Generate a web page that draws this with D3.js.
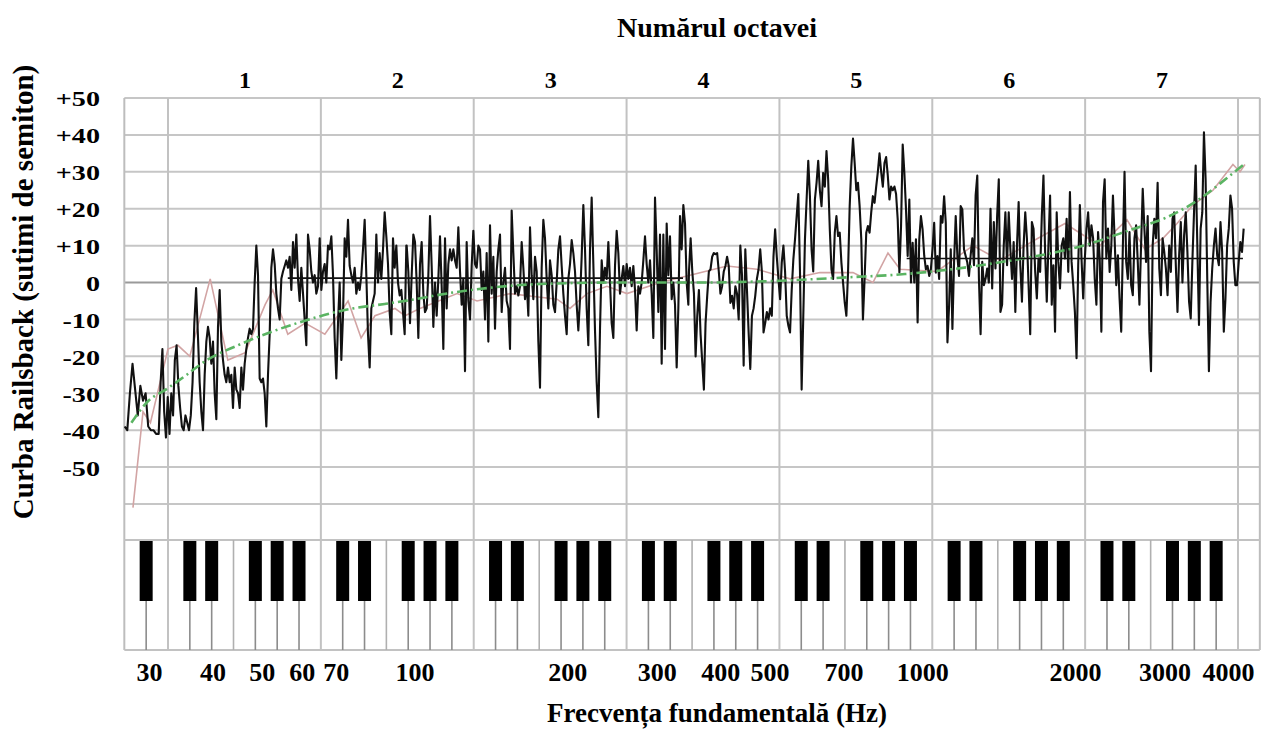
<!DOCTYPE html>
<html lang="ro">

<head>
    <meta charset="utf-8">
    <style type="text/css">
        body { margin: 0; background: #fff; }
        svg { display: block; }
        text {
            font-family: "Liberation Serif", "Times New Roman", serif;
            font-weight: bold;
            fill: #000;
        }
    </style>
</head>

<body>
    <svg width="1274" height="731"></svg>
    <script src="https://d3js.org/d3.v7.min.js" type="text/javascript"></script>

    <script type="text/javascript">
        // ---- data ----
        var freqTicks = [30, 40, 50, 60, 70, 100, 200, 300, 400, 500, 700, 1000, 2000, 3000, 4000];
        var centTicks = [50, 40, 30, 20, 10, 0, -10, -20, -30, -40, -50];
        var centGrid = [50, 40, 30, 20, 10, 0, -10, -20, -30, -40, -50, -60];
        var octaveNumbers = [1, 2, 3, 4, 5, 6, 7];

        // measured tuning (cents), read in runs evenly spaced in log-frequency between the two ends
        var run1Hz = [26.87, 31.35];
        var run1 = [-39, -40, -30, -22, -29, -36, -28, -32, -30, -39, -40, -40, -41, -41];
        var run2Hz = [31.63, 37.75];
        var run2 = [-27, -18, -35, -42, -31, -41, -30, -36, -21, -17, -28, -34, -39, -40, -36, -38, -40, -36, -27, -11, -1.5, -14, -27];
        var run3Hz = [38.04, 96.37];
        var run3 = [-35, -40, -25, -16, -12, -15, -22, -16, -30, -37, -12, -2, -16, -21, -25, -27, -23, -27, -25, -34,
            -23, -29, -30, -34, -23, -29, -22, -18, -15, -12.5, -14, -12.5, 0, 10, 2, -26, -27, -26, -30, -39,
            -25, -14, 4, 9, 5, -3, -7, -10, 1, 3, 4.5, 6, 4, 7, -2, 11, 4, 13, 1, -5,
            4, -3, -10, -17, 13, 9, 3, 0, 2, -3, -1, 12, -2, 3, 5, 0, 10, 9, 12.5, 2,
            -15, -26, -11, 0, -21, -9, 12, 7, 17, 4.5, 2, 0, 4, -3, 0, -2, 2, 9, 17, 2,
            -14, -23, -7, -5, -3, 13, 0, 8, 1, 9, 19, 12.5, 5, -8, -14, 12, 4, 10, 0, -3.5,
            -2, -8, -14, 10];
        var run4Hz = [96.52, 346.2];
        var run4 = [10, 3, -11, 2, 13, 11, 0, -15, 5, 11, -3, -8, -7, 2, 18, 4.5, -12, 0, -9, 1,
            12.5, -1, -18, 12, -7, 5, 9, 6, 9, 6, 4, 15, 3, -6, 1, -24, 11, -5, -10, 4.5,
            14, 5, 4, 10, 9, -2, 3, -10, 8, -16, 15.5, -3, 7, -12.5, 3, 9, 13, -8, 0, 4,
            -5, -7, -18, 19.5, 8, -3, -1, -3.5, -1, 11, 4, -4.5, 0, -9, 15, 2, -4.5, 7, 3, -16,
            -28.5, 4, 17, 12, 1, -7, 6, 2, -6, -8, 0, 9, 12.5, 4.5, -3, -9, -14, 1, 5, 11.5,
            8, 3, -6, -13, -4.5, 7, 21, 9, -7, -17, 9, 23, 5, -13, -27, -36.5, -12.5, 6, 0, 4,
            1, 11, 0, -11, -15, 4.5, 14, 8, -3, 1, 4.5, -1, 5, 1, 4, -1, 4.5, -2, -13, -1,
            -3, 0, 6, 12.5, 5, 0, 6, -3, -15, 23, 9, -8, 13, -22, 13, -18, 16, 2, 12.5, -4.5,
            0, -6, -23, -7, 18, 9, 21, 16, 0, -6];
        var run5Hz = [347.2, 1235.9];
        var run5 = [3, 12, 3, -3, -20, -9, -2, -14, -21.5, -29, -11, -3.6, 3, 3.6, 7, 8, 7.7, 8, 3, -3,
            -1, 3, 4.5, 7, 4.5, -5.5, -3.6, -7, -1, -3, -10, 10, 2, -22.5, 9, -2, -13.5, -23.4, -9, -7,
            -3.6, 1, 3.6, 9, 3, -13.5, -11, -8, -10, -7, -9, 7, 14.4, 7, 1, -4.5, 5.4, 10, 3, -9,
            -11.7, -13.5, -2, 6.3, 11.7, 18, 24, 3, -29, -9, 11.7, 22.5, 33, 23.4, 9, 3, 22.5, 27, 33, 25,
            20.7, 29.7, 26, 35.6, 28, 14.4, 3.6, 1, 13.5, 18, 12.6, 13.5, 5.4, 0, -5.4, -9, 2.7, 20.7, 31.5, 39,
            32.4, 25, 27, 20.7, 11.7, -10, 1, 13.5, 15.3, 13.5, 19, 23.4, 21.6, 26, 30, 35, 30, 26, 32.4, 34,
            29, 22.5, 26, 25, 26, 24, 17, 2.7, 15.3, 37.4, 29.7, 19.8, 7.2, 22.5, 0, 10.8, 0, 11.7, -10.8, 11.7,
            18, 14.4, 7.2, 3.6, 4.5, 1.8, 3.6, 9, 16.2, 2.7, 7.2, 1, 18, 16.2, 23.4, 16.2, -16.2, -6.3, 9, -12.6,
            5.4, 18, 7.2, 1.8, 20.7, 19.8, 9, 7.2, 5.4, 1.8];
        var run6Hz = [1245.4, 4294.8];
        var run6 = [7.4, 12, 4.7, 23.6, 29, 1, -14, 5.6, -0.7, 1, 3.8, 0, 20, -1.6, 16.4, 3.8, 18, 28, -8, -6,
            10, 19, 4.7, 19, 9, 1, 11, -8, 10, 21.8, 4.7, -5.2, 10, 19, 12, -0.7, -14, 16.4, 14.6, 2.9,
            -4.3, 6.5, 2.9, 18, 29, 8.3, -5.2, 10, 23.6, -6, 4.7, -13.3, 19, 5.6, -1.6, 10, 12, 6.5, 17.3, 2.9,
            24.5, 5.6, -0.7, -8, -20.5, 4.7, 21, 6.5, -4.3, 6.5, 14.6, 19, 10, 15.5, 12, 1, -6, 13.7, 6.5, -13.3,
            21.8, 28, 6.5, 14.6, 2.9, 10, 23.6, 12, -0.7, 7.4, -4.3, -13.3, 10, 30, 5.6, 1, 13.7, -0.7, -3.4, 12,
            15.5, 5.6, -6, 10, 25.4, 14.6, 5.6, 18, -13.3, -24, 10, 17.3, 12, 27, 3.8, -3.4, 12, 8.3, 3.8, -3.4,
            10, 2.9, 17.3, 19, 4.7, -8, 7.4, 16.4, 0, 12.8, 19, 8.3, -5.2, -9.7, 5.6, 19, 31.7, 10, -11.5, 14.6,
            19, 40.7, 28, 1, -24, -5.2, 3.8, 10, 14.6, 7.4, 4.7, 16.4, 8.3, -13.3, -4.3, 10, 14.6, 23.6, 20, 5.6,
            -0.7, -0.7, 5.6, 11, 8.3, 14.6];

        // smoothed comparison curve (light red)
        var refHz = [27.9, 29.2, 30.2, 32.7, 34.2, 36.1, 39.6, 42.9, 46.4, 50.8, 52.6, 56.3, 60.9, 66.6, 74.0,
            78.5, 83.6, 91.5, 95.8, 102.5, 121.3, 132.8, 154.2, 190.9, 202.4, 218.7, 239.4, 262.1, 304.4,
            348.8, 412.5, 472.6, 548.9, 628.9, 730.4, 799.7, 856.0, 904.0, 1068.8, 1258.7, 1422.6, 1690.1,
            1910.2, 2238.5, 2530.2, 2745.4, 2978.9, 3174.5, 3413.2, 3737, 4091, 4223.6, 4320];
        var refCents = [-61, -35, -38, -18, -17, -20, 1, -21, -19, -6, -2, -14, -11, -14, -5,
            -15, -9, -7, -9, -7, -3, -5, -3, -4.5, -7, -3, -1, -3, 0,
            2, 4.5, 3.6, 1, 2.7, 2.7, 0, 8, 3.6, 3, 10, 6, 12,
            16, 10, 17, 9, 12, 16, 21, 25, 32, 30, 32];

        // fitted trend (green dash-dot)
        var trendHz = [27.7, 29.7, 32.7, 35.6, 38.6, 44.9, 58.1, 75.1, 87.4, 96.5, 119.1, 176.7, 250.2,
            365.0, 524.6, 709.9, 924.7, 1422.6, 2072.4, 2599.9, 3033.6, 3523.1, 3857.6, 4281];
        var trendCents = [-38, -32.5, -28.6, -25, -21.4, -17, -11.2, -7.1, -5.8, -4.9, -2.7, -0.4, 0,
            0, 0.5, 1.4, 2.3, 5.5, 10, 14.5, 17.7, 22.7, 26.8, 31.8];

        // mean levels: [from Hz, to Hz, cents]
        var meanLevels = [[56.3, 337.9, 1.2], [931.7, 4281, 6.5]];

        // ---- layout ----
        var svg = d3.select("svg");
        var kbTop = 540, kbBlackBottom = 601, kbBottom = 650;

        var x = d3.scaleLog().domain([32.703, 4186.01]).range([168, 1238]);
        var y = d3.scaleLinear().domain([-60, 50]).range([504, 98]);

        function noteHz(midi) { return 440 * Math.pow(2, (midi - 69) / 12); }
        function cOf(oct) { return noteHz(12 * (oct + 1)); }

        var whiteW = (x(cOf(2)) - x(cOf(1))) / 7;
        var left = x(cOf(0)) + 5 * whiteW;     // A0
        var right = x(cOf(8)) + whiteW;        // end of C8

        // ---- grid ----
        svg.selectAll(".hgrid")
            .data(centGrid)
            .enter()
            .append("line")
            .attr("class", "hgrid")
            .attr("x1", left).attr("x2", right)
            .attr("y1", function (d) { return y(d); })
            .attr("y2", function (d) { return y(d); })
            .attr("stroke", function (d) { return d === 0 ? "#9a9a9a" : "#c6c6c6"; })
            .attr("stroke-width", 2);

        var octaves = d3.range(1, 9);
        svg.selectAll(".vgrid")
            .data(octaves)
            .enter()
            .append("line")
            .attr("class", "vgrid")
            .attr("x1", function (d) { return x(cOf(d)); })
            .attr("x2", function (d) { return x(cOf(d)); })
            .attr("y1", y(50)).attr("y2", kbBottom)
            .attr("stroke", "#c2c2c2")
            .attr("stroke-width", 2);

        // frame
        [left, right].forEach(function (xx) {
            svg.append("line")
                .attr("x1", xx).attr("x2", xx)
                .attr("y1", y(50)).attr("y2", kbBottom)
                .attr("stroke", "#bdbdbd").attr("stroke-width", 2);
        });
        [kbTop, kbBottom].forEach(function (yy) {
            svg.append("line")
                .attr("x1", left).attr("x2", right)
                .attr("y1", yy).attr("y2", yy)
                .attr("stroke", "#c2c2c2").attr("stroke-width", 2);
        });

        // ---- piano keyboard (A0..C8) ----
        var whiteIdx = { 0: 0, 2: 1, 4: 2, 5: 3, 7: 4, 9: 5, 11: 6 };
        var blackEdge = { 1: 1, 3: 2, 6: 4, 8: 5, 10: 6 };
        var keys = d3.range(21, 109).map(function (m) {
            var pc = m % 12, oct = Math.floor(m / 12) - 1;
            return { midi: m, pc: pc, oct: oct, black: !(pc in whiteIdx) };
        });

        // boundaries between white keys (E|F full height, others under black keys)
        var edges = keys.filter(function (k) { return !k.black && k.pc !== 0 && k.midi !== 21; })
            .map(function (k) {
                return { x: x(cOf(k.oct)) + whiteIdx[k.pc] * whiteW, full: k.pc === 5 };
            });
        svg.selectAll(".kedge")
            .data(edges)
            .enter()
            .append("line")
            .attr("class", "kedge")
            .attr("x1", function (d) { return d.x; })
            .attr("x2", function (d) { return d.x; })
            .attr("y1", function (d) { return d.full ? kbTop : kbBlackBottom; })
            .attr("y2", kbBottom)
            .attr("stroke", function (d) { return d.full ? "#b0b0b0" : "#8c8c8c"; })
            .attr("stroke-width", 1.6);

        svg.selectAll(".bkey")
            .data(keys.filter(function (k) { return k.black; }))
            .enter()
            .append("rect")
            .attr("class", "bkey")
            .attr("x", function (d) { return x(cOf(d.oct)) + blackEdge[d.pc] * whiteW - 6.5; })
            .attr("y", kbTop + 1)
            .attr("width", 13)
            .attr("height", kbBlackBottom - kbTop - 1)
            .attr("fill", "#000");

        // ---- curves ----
        var line = d3.line()
            .x(function (d) { return x(d[0]); })
            .y(function (d) { return y(d[1]); });

        svg.append("path")
            .datum(d3.zip(refHz, refCents))
            .attr("d", line)
            .attr("fill", "none")
            .attr("stroke", "#d2a4a4")
            .attr("stroke-width", 1.6);

        var runs = [[run1Hz, run1], [run2Hz, run2], [run3Hz, run3], [run4Hz, run4], [run5Hz, run5], [run6Hz, run6]];
        var measured = [];
        runs.forEach(function (r) {
            var f0 = r[0][0], f1 = r[0][1], vals = r[1], n = vals.length;
            vals.forEach(function (c, i) {
                measured.push([f0 * Math.pow(f1 / f0, i / (n - 1)), c]);
            });
        });

        svg.append("path")
            .datum(measured)
            .attr("d", line)
            .attr("fill", "none")
            .attr("stroke", "#111")
            .attr("stroke-width", 2.1)
            .attr("stroke-linejoin", "round");

        svg.append("path")
            .datum(d3.zip(trendHz, trendCents))
            .attr("d", line.curve(d3.curveMonotoneX))
            .attr("fill", "none")
            .attr("stroke", "#5bb463")
            .attr("stroke-width", 2.6)
            .attr("stroke-dasharray", "10,4,2,4");

        svg.selectAll(".mean")
            .data(meanLevels)
            .enter()
            .append("line")
            .attr("class", "mean")
            .attr("x1", function (d) { return x(d[0]); })
            .attr("x2", function (d) { return x(d[1]); })
            .attr("y1", function (d) { return y(d[2]); })
            .attr("y2", function (d) { return y(d[2]); })
            .attr("stroke", "#111")
            .attr("stroke-width", 1.6);

        // ---- axes / labels ----
        var yAxis = svg.append("g")
            .attr("transform", "translate(100,0)")
            .call(d3.axisLeft(y).tickValues(centTicks).tickSize(0).tickPadding(0)
                .tickFormat(function (d) { return d > 0 ? "+" + d : String(d); }));
        yAxis.select(".domain").remove();
        yAxis.selectAll("text")
            .attr("dy", "0.36em")
            .attr("transform", "scale(1.28,1)")
            .style("font-size", "22px");

        var xAxis = svg.append("g")
            .attr("transform", "translate(0,663)")
            .call(d3.axisBottom(x).tickValues(freqTicks).tickSize(0).tickPadding(0)
                .tickFormat(d3.format("d")));
        xAxis.select(".domain").remove();
        xAxis.selectAll("text").style("font-size", "26px");

        var octCenters = octaveNumbers.map(function (o) { return cOf(o) * Math.SQRT2; });
        var topAxis = svg.append("g")
            .attr("transform", "translate(0,88)")
            .call(d3.axisTop(x).tickValues(octCenters).tickSize(0).tickPadding(0)
                .tickFormat(function (d, i) { return octaveNumbers[i]; }));
        topAxis.select(".domain").remove();
        topAxis.selectAll("text").style("font-size", "24px");

        svg.append("text")
            .attr("x", 717).attr("y", 37)
            .attr("text-anchor", "middle")
            .style("font-size", "28px")
            .text("Numărul octavei");

        svg.append("text")
            .attr("x", 717).attr("y", 722)
            .attr("text-anchor", "middle")
            .style("font-size", "27px")
            .text("Frecvența fundamentală (Hz)");

        svg.append("text")
            .attr("transform", "translate(33,292) rotate(-90)")
            .attr("text-anchor", "middle")
            .style("font-size", "29px")
            .text("Curba Railsback (sutimi de semiton)");
    </script>

</body>

</html>
